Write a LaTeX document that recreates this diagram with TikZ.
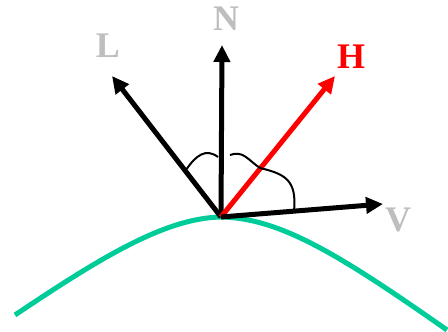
\documentclass[tikz,border=0pt]{standalone}
\usepackage{fontspec}
\setmainfont{Liberation Serif}
\usetikzlibrary{arrows.meta}
\definecolor{surf}{RGB}{0,204,153}
\definecolor{lbl}{RGB}{190,190,190}
\definecolor{hred}{RGB}{255,0,0}
\tikzset{
  vec/.style={line width=5pt, -{Triangle[length=17pt,width=16pt]}},
  lab/.style={font=\fontsize{36}{40}\selectfont\bfseries, inner sep=0pt},
  angarc/.style={line width=2pt, black}
}
\begin{document}
\begin{tikzpicture}[x=1pt,y=-1pt]
\useasboundingbox (0,0) rectangle (448,332);
\coordinate (O) at (221,217);
\coordinate (Lt) at (112,76);
\coordinate (Nt) at (222,45);
\coordinate (Ht) at (335,76);
\coordinate (Vt) at (383,204);
% surface
\draw[surf, line width=5pt] (15,315) .. controls (100,258) and (165,218) .. (O)
  .. controls (280,218) and (340,255) .. (447,330);
% vectors
\draw[vec, black] (O) -- (Lt);
\draw[vec, black] (O) -- (Nt);
\draw[vec, hred] (O) -- (Ht);
\draw[vec, black] (O) -- (Vt);
% angle arcs
\draw[angarc] (186,170) .. controls (196,155) and (206,148) .. (218,157);
\draw[angarc] (230,155) .. controls (243,150) and (248,160) .. (260,168)
  .. controls (285,174) and (297,180) .. (294,211);
% labels
\node[lab, text=lbl] (L) at (108,46) {L};
\node[lab, text=lbl] (N) at (226,19) {N};
\node[lab, text=hred] (H) at (351,57) {H};
\node[lab, text=lbl] (V) at (398,220) {V};
\end{tikzpicture}
\end{document}
